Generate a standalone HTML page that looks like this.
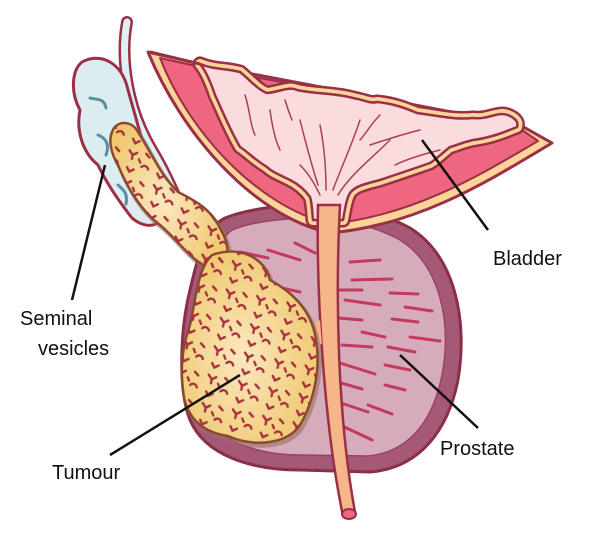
<!DOCTYPE html>
<html><head><meta charset="utf-8"><style>
body{margin:0;background:#fff;}
svg{display:block}
text{font-family:"Liberation Sans",Arial,sans-serif;font-size:20px;fill:#111}
</style></head><body>
<svg width="600" height="545" viewBox="0 0 600 545" xmlns="http://www.w3.org/2000/svg">
<defs>
<pattern id="tm" width="31" height="29" patternUnits="userSpaceOnUse" patternTransform="rotate(12)">
<g stroke="#a8323f" stroke-width="2.4" fill="none" stroke-linecap="round">
<path d="M3 4 L7 8 L11 5 M7 8 L7 12"/>
<path d="M18 18 C20 15 24 16 25 19"/>
<path d="M20 4 L24 7"/>
<path d="M4 21 L7 25 L11 22"/>
<path d="M14 11 L16 14"/>
</g>
</pattern>
<radialGradient id="tg" cx="0.45" cy="0.55" r="0.6"><stop offset="0" stop-color="#fbe8bf"/><stop offset="1" stop-color="#efc86e"/></radialGradient>
</defs>
<!-- prostate -->
<path d="M225 218 C270 200 360 200 410 228 C455 256 468 320 458 380 C448 430 420 468 370 472 L300 470 C250 470 205 455 190 420 C178 390 180 330 190 290 C198 255 205 228 225 218 Z" fill="#a65877" stroke="#8a2f48" stroke-width="3"/>
<path d="M232 230 C275 213 355 214 400 240 C440 265 452 322 442 375 C433 420 410 452 368 456 L302 455 C258 455 218 442 205 412 C195 385 197 332 206 295 C213 262 218 240 232 230 Z" fill="#d6acbc" stroke="#9a4260" stroke-width="1.5"/>
<g stroke="#c43a5e" stroke-width="3" stroke-linecap="round">
<line x1="295" y1="243" x2="315" y2="253"/><line x1="268" y1="250" x2="300" y2="260"/><line x1="240" y1="252" x2="268" y2="258"/>
<line x1="350" y1="262" x2="380" y2="260"/><line x1="352" y1="280" x2="392" y2="279"/><line x1="336" y1="290" x2="362" y2="290"/>
<line x1="390" y1="293" x2="418" y2="294"/><line x1="345" y1="300" x2="380" y2="305"/><line x1="405" y1="307" x2="432" y2="311"/>
<line x1="338" y1="318" x2="362" y2="320"/><line x1="392" y1="319" x2="418" y2="322"/><line x1="362" y1="332" x2="385" y2="337"/>
<line x1="410" y1="337" x2="440" y2="341"/><line x1="342" y1="345" x2="372" y2="347"/><line x1="388" y1="347" x2="415" y2="352"/>
<line x1="340" y1="363" x2="375" y2="374"/><line x1="385" y1="365" x2="410" y2="370"/><line x1="338" y1="382" x2="362" y2="389"/>
<line x1="385" y1="385" x2="405" y2="390"/><line x1="338" y1="402" x2="368" y2="412"/><line x1="368" y1="405" x2="392" y2="414"/>
<line x1="338" y1="424" x2="372" y2="440"/><line x1="268" y1="285" x2="300" y2="292"/>
</g>
<!-- bladder -->
<path d="M148 52 L200 64 L520 125 L552 143 C490 180 420 225 330 233 C250 215 180 130 148 52 Z" fill="#fbd49a" stroke="#9a2f45" stroke-width="3" stroke-linejoin="round"/>
<path d="M160 58 L205 68 L515 125 L538 141 C480 175 415 215 330 224 C255 205 188 130 160 58 Z" fill="#ee6680" stroke="#9a2f45" stroke-width="2" stroke-linejoin="round"/>
<path d="M200 64 C215 70 225 68 240 72 C250 80 258 90 267 93 C280 92 288 86 297 90 C315 94 335 93 353 98 C365 100 370 104 377 102 C395 104 405 108 417 113 C440 116 455 120 473 118 C490 120 498 110 510 116 C518 120 518 124 517 127 C505 132 490 138 473 140 C460 143 455 146 450 147 C440 155 435 160 430 163 C410 170 395 175 380 180 C365 184 355 186 350 193 C346 200 345 210 343 220 L313 220 C312 210 312 203 310 197 C305 190 298 184 290 180 C280 175 272 172 267 167 C255 160 248 152 240 147 C230 130 222 110 215 95 C210 80 205 70 200 64 Z" fill="none" stroke="#9a2f45" stroke-width="15" stroke-linejoin="round"/>
<path d="M200 64 C215 70 225 68 240 72 C250 80 258 90 267 93 C280 92 288 86 297 90 C315 94 335 93 353 98 C365 100 370 104 377 102 C395 104 405 108 417 113 C440 116 455 120 473 118 C490 120 498 110 510 116 C518 120 518 124 517 127 C505 132 490 138 473 140 C460 143 455 146 450 147 C440 155 435 160 430 163 C410 170 395 175 380 180 C365 184 355 186 350 193 C346 200 345 210 343 220 L313 220 C312 210 312 203 310 197 C305 190 298 184 290 180 C280 175 272 172 267 167 C255 160 248 152 240 147 C230 130 222 110 215 95 C210 80 205 70 200 64 Z" fill="none" stroke="#fbd49a" stroke-width="10" stroke-linejoin="round"/>
<path d="M200 64 C215 70 225 68 240 72 C250 80 258 90 267 93 C280 92 288 86 297 90 C315 94 335 93 353 98 C365 100 370 104 377 102 C395 104 405 108 417 113 C440 116 455 120 473 118 C490 120 498 110 510 116 C518 120 518 124 517 127 C505 132 490 138 473 140 C460 143 455 146 450 147 C440 155 435 160 430 163 C410 170 395 175 380 180 C365 184 355 186 350 193 C346 200 345 210 343 220 L313 220 C312 210 312 203 310 197 C305 190 298 184 290 180 C280 175 272 172 267 167 C255 160 248 152 240 147 C230 130 222 110 215 95 C210 80 205 70 200 64 Z" fill="#fadcdf" stroke="#9a2f45" stroke-width="2.5" stroke-linejoin="round"/>
<path d="M150 52 L200 64" stroke="#9a2f45" stroke-width="3"/>
<g stroke="#a8404f" stroke-width="1.5" fill="none" stroke-linecap="round">
<path d="M245 95 C250 110 250 125 255 135"/><path d="M270 110 C272 125 275 140 280 150"/><path d="M300 120 C305 140 310 160 318 185"/>
<path d="M320 125 C325 150 326 170 326 190"/><path d="M360 120 C350 150 340 170 333 190"/><path d="M390 140 C370 160 350 175 338 195"/>
<path d="M420 130 C400 135 385 140 370 145"/><path d="M440 150 C420 155 405 160 395 165"/><path d="M380 115 C370 125 365 135 360 140"/>
<path d="M300 165 C310 175 315 185 320 195"/><path d="M285 100 C288 110 290 115 292 120"/>
</g>
<!-- urethra -->
<path d="M318 205 L340 205 C335 300 338 420 355 512 L343 516 C325 430 316 300 318 205 Z" fill="#f7b58a" stroke="#9a2f45" stroke-width="2.5"/>
<path d="M305 330 L320 320 L322 345 Z" fill="#f7b58a"/>
<ellipse cx="349" cy="514" rx="7" ry="5" fill="#ee6680" stroke="#9a2f45" stroke-width="2"/>
<!-- vas deferens -->
<path d="M127 22 C120 60 128 110 152 150 C167 175 177 200 187 222" fill="none" stroke="#9a2f45" stroke-width="12" stroke-linecap="round"/>
<path d="M127 22 C120 60 128 110 152 150 C167 175 177 200 187 222" fill="none" stroke="#dff0f4" stroke-width="7" stroke-linecap="round"/>
<!-- seminal vesicle -->
<path d="M82 62 C100 52 122 62 128 90 C138 125 150 170 162 205 C168 225 148 232 132 218 C118 200 105 180 98 165 C82 152 76 130 80 110 C70 92 72 70 82 62 Z" fill="#dcedf2" stroke="#9a2f45" stroke-width="3"/>
<g stroke="#5a8ea0" stroke-width="3" fill="none" stroke-linecap="round"><path d="M90 98 C98 100 104 98 106 108"/><path d="M98 135 C106 138 110 145 106 155"/><path d="M118 185 C124 190 128 194 126 204"/></g>
<!-- tumour -->
<g fill="none" stroke="#9a7060" stroke-width="4" opacity="0.6" transform="translate(2,3)">
<path d="M112 132 C116 120 132 120 138 132 C150 150 160 175 178 192 C198 202 212 210 222 232 C232 250 228 268 210 268 C192 262 178 240 160 225 C140 210 126 185 118 165 C112 155 108 142 112 132 Z"/>
<path d="M212 255 C240 245 265 258 270 280 C292 292 312 310 316 340 C322 375 310 410 298 428 C282 446 250 446 228 436 C200 432 185 415 183 390 C180 365 183 345 190 325 C196 298 198 268 212 255 Z"/>
</g>
<g stroke="#8a4a30" stroke-width="2.5">
<path d="M112 132 C116 120 132 120 138 132 C150 150 160 175 178 192 C198 202 212 210 222 232 C232 250 228 268 210 268 C192 262 178 240 160 225 C140 210 126 185 118 165 C112 155 108 142 112 132 Z" fill="url(#tg)"/>
<path d="M212 255 C240 245 265 258 270 280 C292 292 312 310 316 340 C322 375 310 410 298 428 C282 446 250 446 228 436 C200 432 185 415 183 390 C180 365 183 345 190 325 C196 298 198 268 212 255 Z" fill="url(#tg)"/>
</g>
<path d="M112 132 C116 120 132 120 138 132 C150 150 160 175 178 192 C198 202 212 210 222 232 C232 250 228 268 210 268 C192 262 178 240 160 225 C140 210 126 185 118 165 C112 155 108 142 112 132 Z" fill="url(#tm)"/>
<path d="M212 255 C240 245 265 258 270 280 C292 292 312 310 316 340 C322 375 310 410 298 428 C282 446 250 446 228 436 C200 432 185 415 183 390 C180 365 183 345 190 325 C196 298 198 268 212 255 Z" fill="url(#tm)"/>
<!-- leader lines -->
<g stroke="#111" stroke-width="2.5">
<line x1="422" y1="140" x2="488" y2="230"/>
<line x1="105" y1="165" x2="72" y2="300"/>
<line x1="240" y1="375" x2="110" y2="455"/>
<line x1="400" y1="355" x2="478" y2="428"/>
</g>
<text x="493" y="265">Bladder</text>
<text x="20" y="325">Seminal</text>
<text x="38" y="355">vesicles</text>
<text x="52" y="479">Tumour</text>
<text x="440" y="455">Prostate</text>
</svg>
</body></html>
